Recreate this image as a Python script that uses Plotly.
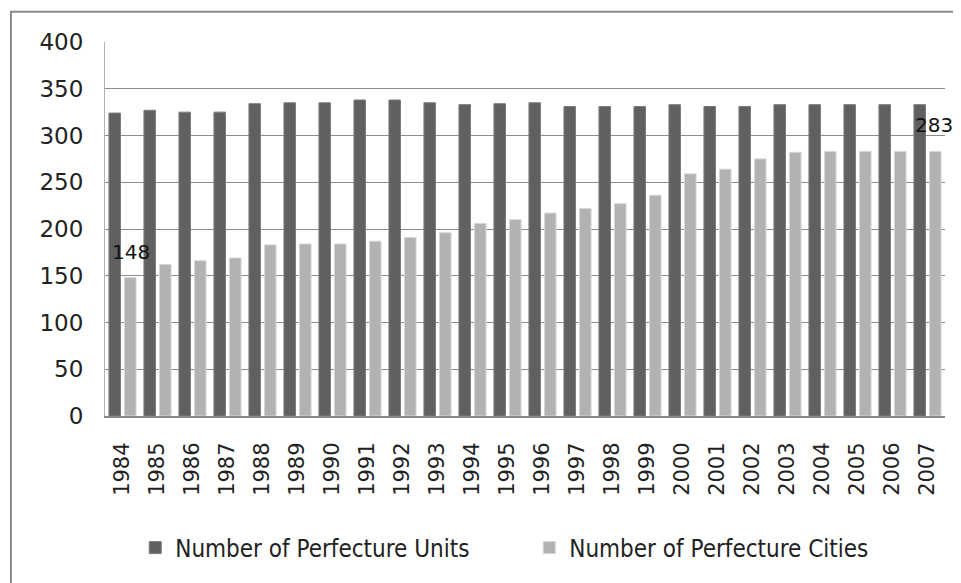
import plotly.graph_objects as go

years = [str(y) for y in range(1984, 2008)]
units = [324, 327, 325, 325, 334, 335, 335, 338, 338, 335, 333, 334,
         335, 331, 331, 331, 333, 331, 331, 333, 333, 333, 333, 333]
cities = [148, 162, 166, 169, 183, 184, 184, 187, 191, 196, 206, 210,
          217, 222, 227, 236, 259, 264, 275, 282, 283, 283, 283, 283]
y_ticks = [0, 50, 100, 150, 200, 250, 300, 350, 400]

fig = go.Figure()
fig.add_trace(go.Bar(x=years, y=units, name="Number of Perfecture Units",
                     marker=dict(color="#606060", line=dict(color="#7c7c7c", width=1))))
fig.add_trace(go.Bar(x=years, y=cities, name="Number of Perfecture Cities",
                     marker=dict(color="#b2b2b2", line=dict(color="#d6d6d6", width=1))))

first, last = 0, len(years) - 1
fig.add_annotation(x=first, y=cities[first], text=str(cities[first]), showarrow=False,
                   xshift=8, yshift=12, yanchor="bottom",
                   font=dict(family="DejaVu Sans", size=20, color="#111"))
fig.add_annotation(x=last, y=cities[last], text=str(cities[last]), showarrow=False,
                   xshift=6, yshift=12, yanchor="bottom",
                   font=dict(family="DejaVu Sans", size=20, color="#111"))

# outer chart frame
fig.add_shape(type="rect", xref="paper", yref="paper", x0=-0.112, x1=1.2, y0=-0.5, y1=1.081,
              line=dict(color="#8a8a8a", width=2), layer="below")

fig.update_layout(
    width=953, height=575,
    margin=dict(l=97, r=16, t=34, b=167, autoexpand=False),
    paper_bgcolor="white", plot_bgcolor="white",
    barmode="group", bargap=0.11, bargroupgap=0.26,
    font=dict(family="DejaVu Sans", size=20, color="#222"),
    showlegend=True,
    legend=dict(orientation="h", x=0.036, xanchor="left", y=-0.353, yanchor="middle",
                font=dict(family="Liberation Sans Narrow, DejaVu Sans Condensed", size=24, color="#222"),
                itemwidth=30, entrywidth=349, entrywidthmode="pixels", traceorder="normal"),
    xaxis=dict(type="category", range=[-0.5, len(years) - 0.5], autorange=False, automargin=False,
               tickangle=-90, showline=True, linecolor="#888", linewidth=2,
               ticks="", tickfont=dict(family="DejaVu Sans", size=21, color="#222"),
               ticklabelstandoff=16, showgrid=False),
    yaxis=dict(range=[0, 400], autorange=False, automargin=False,
               tickvals=y_ticks, ticktext=[str(v) for v in y_ticks],
               showgrid=True, gridcolor="#8c8c8c", gridwidth=1,
               showline=True, linecolor="#b0b0b0", linewidth=1,
               ticks="", tickfont=dict(family="DejaVu Sans", size=23, color="#222"),
               ticklabelstandoff=16, zeroline=False),
)

fig.write_html("out.html")
